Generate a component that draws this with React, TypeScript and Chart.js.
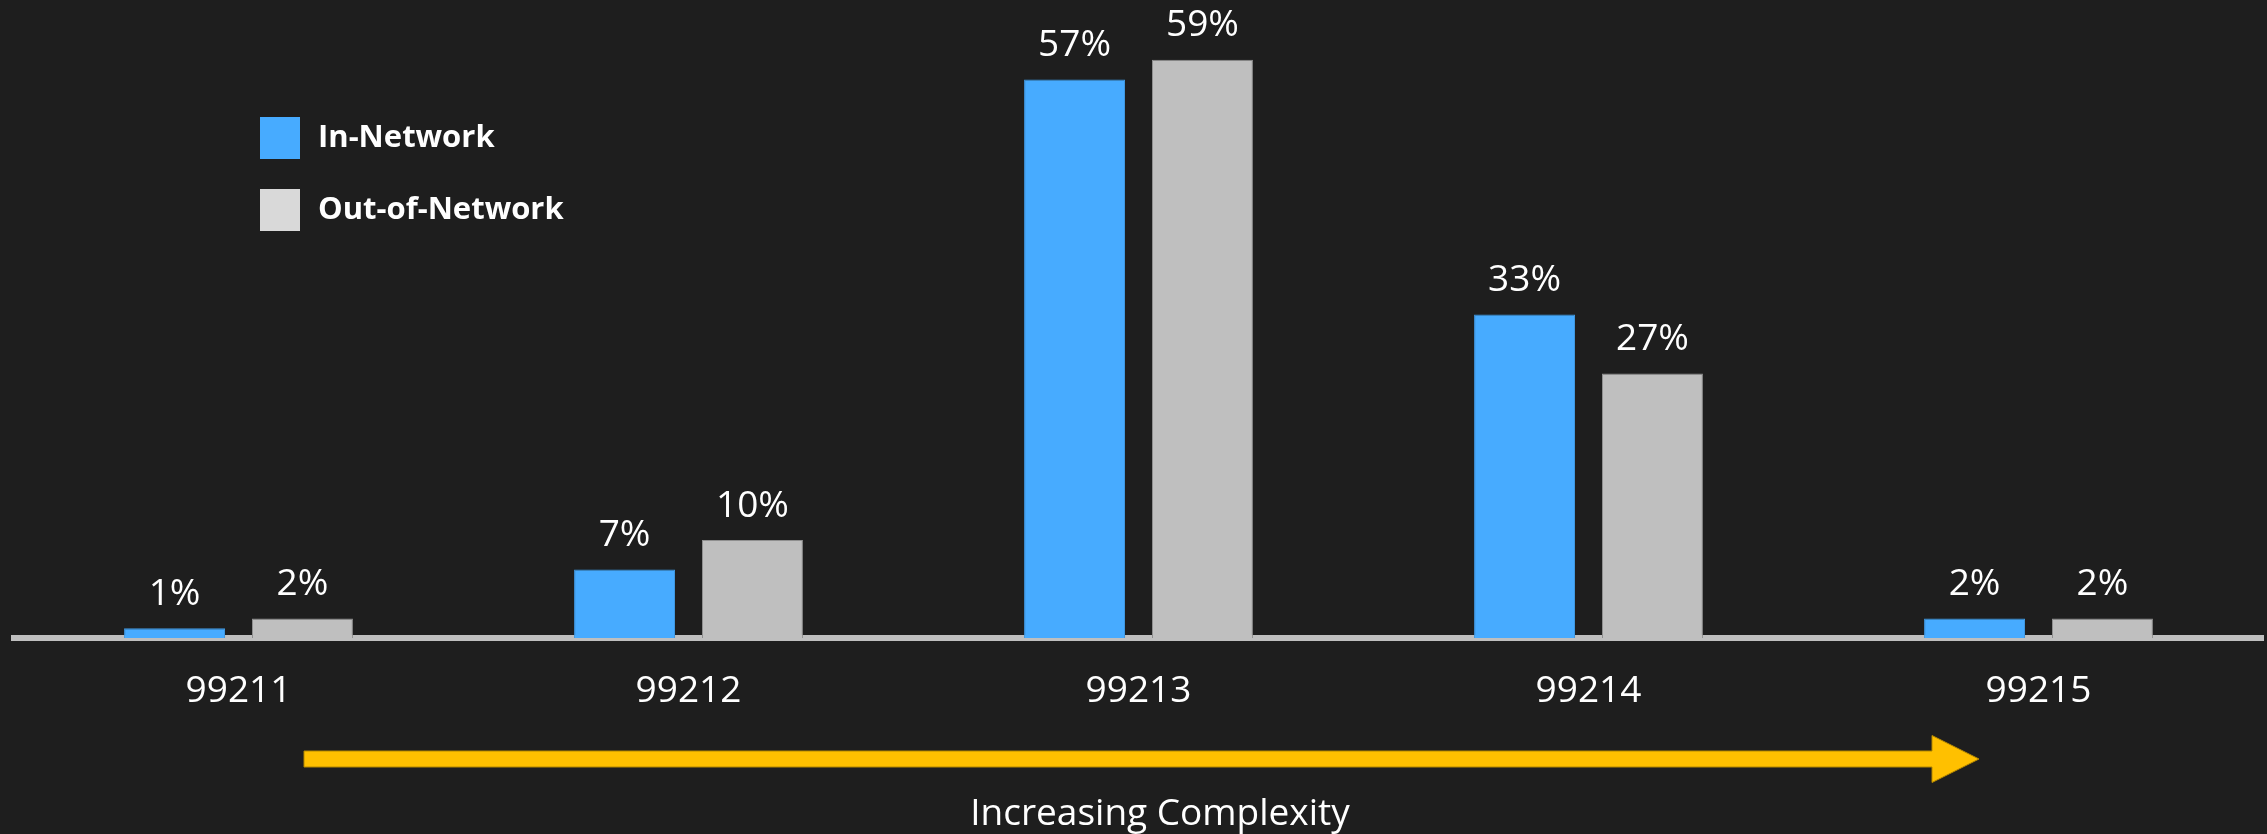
import React, { useEffect, useRef } from "react";
import { Chart, registerables } from "chart.js";

Chart.register(...registerables);

const categories = ["99211", "99212", "99213", "99214", "99215"];
const seriesNames = ["In-Network", "Out-of-Network"];
const inNetwork = [1, 7, 57, 33, 2];
const outOfNetwork = [2, 10, 59, 27, 2];
const barColors = ["#47ABFF", "#BFBFBF"];
const barBorderColors = ["#3F97E0", "#8F8F8F"];
const legendColors = ["#47ABFF", "#D9D9D9"];
const arrowLabel = "Increasing Complexity";

const FONT = "'Open Sans', 'Noto Sans', sans-serif";
const BG = "#1E1E1E";

const valueLabelPlugin = {
  id: "valueLabels",
  afterDatasetsDraw(chart: any) {
    const ctx = chart.ctx;
    ctx.save();
    ctx.font = `37px ${FONT}`;
    ctx.fillStyle = "#FFFFFF";
    ctx.textAlign = "center";
    ctx.textBaseline = "alphabetic";
    chart.data.datasets.forEach((ds: any, di: number) => {
      const meta = chart.getDatasetMeta(di);
      meta.data.forEach((bar: any, i: number) => {
        ctx.fillText(`${ds.data[i]}%`, bar.x, bar.y - 23.5);
      });
    });
    ctx.restore();
  },
};

const legendPlugin = {
  id: "customLegend",
  afterDraw(chart: any) {
    const ctx = chart.ctx;
    ctx.save();
    ctx.font = `bold 31px ${FONT}`;
    ctx.textAlign = "left";
    ctx.textBaseline = "middle";
    chart.data.datasets.forEach((ds: any, di: number) => {
      const top = 117 + di * 72;
      ctx.fillStyle = legendColors[di];
      ctx.fillRect(260, top, 40, 42);
      ctx.fillStyle = "#FFFFFF";
      ctx.fillText(ds.label, 318, top + 21);
    });
    ctx.restore();
  },
};

const arrowPlugin = {
  id: "complexityArrow",
  afterDraw(chart: any) {
    const ctx = chart.ctx;
    const x0 = 304;
    const headBase = 1932;
    const tip = 1979;
    const cy = 759;
    ctx.save();
    ctx.beginPath();
    ctx.moveTo(x0, cy - 8);
    ctx.lineTo(headBase, cy - 8);
    ctx.lineTo(headBase, cy - 23.5);
    ctx.lineTo(tip, cy);
    ctx.lineTo(headBase, cy + 23.5);
    ctx.lineTo(headBase, cy + 8);
    ctx.lineTo(x0, cy + 8);
    ctx.closePath();
    ctx.fillStyle = "#FFC000";
    ctx.fill();
    ctx.lineWidth = 1;
    ctx.strokeStyle = "#B38700";
    ctx.stroke();
    ctx.font = `37px ${FONT}`;
    ctx.fillStyle = "#FFFFFF";
    ctx.textAlign = "center";
    ctx.textBaseline = "alphabetic";
    ctx.fillText(arrowLabel, 1160, 825);
    ctx.restore();
  },
};

export default function App() {
  const ref = useRef<HTMLCanvasElement>(null);
  useEffect(() => {
    if (!ref.current) return;
    const chart = new Chart(ref.current, {
      type: "bar",
      data: {
        labels: categories,
        datasets: [
          {
            label: seriesNames[0],
            data: inNetwork,
            backgroundColor: barColors[0],
            borderColor: barBorderColors[0],
            borderWidth: 1,
            borderSkipped: "bottom",
            categoryPercentage: 0.5686,
            barPercentage: 0.789,
          },
          {
            label: seriesNames[1],
            data: outOfNetwork,
            backgroundColor: barColors[1],
            borderColor: barBorderColors[1],
            borderWidth: 1,
            borderSkipped: "bottom",
            categoryPercentage: 0.5686,
            barPercentage: 0.789,
          },
        ],
      },
      options: {
        responsive: false,
        animation: false,
        devicePixelRatio: 1,
        layout: { padding: { left: 13.5, right: 3.5, top: 1, bottom: 0 } },
        plugins: {
          legend: { display: false },
          tooltip: { enabled: false },
          title: { display: false },
        },
        scales: {
          x: {
            z: 1,
            grid: { display: false, drawTicks: false },
            border: { display: true, color: "#BFBFBF", width: 6 },
            ticks: {
              color: "#FFFFFF",
              font: { family: FONT, size: 37 },
              padding: 31,
              maxRotation: 0,
              autoSkip: false,
            },
            afterFit(scale: any) {
              scale.height = 196;
            },
          },
          y: {
            display: false,
            min: 0,
            max: 65,
          },
        },
      },
      plugins: [valueLabelPlugin, legendPlugin, arrowPlugin],
    } as any);
    return () => chart.destroy();
  }, []);
  return (
    <div
      style={{
        position: "fixed",
        left: 0,
        top: 0,
        width: 2267,
        height: 834,
        background: BG,
      }}
    >
      <canvas ref={ref} width={2267} height={834} style={{ width: 2267, height: 834, display: "block" }} />
    </div>
  );
}
